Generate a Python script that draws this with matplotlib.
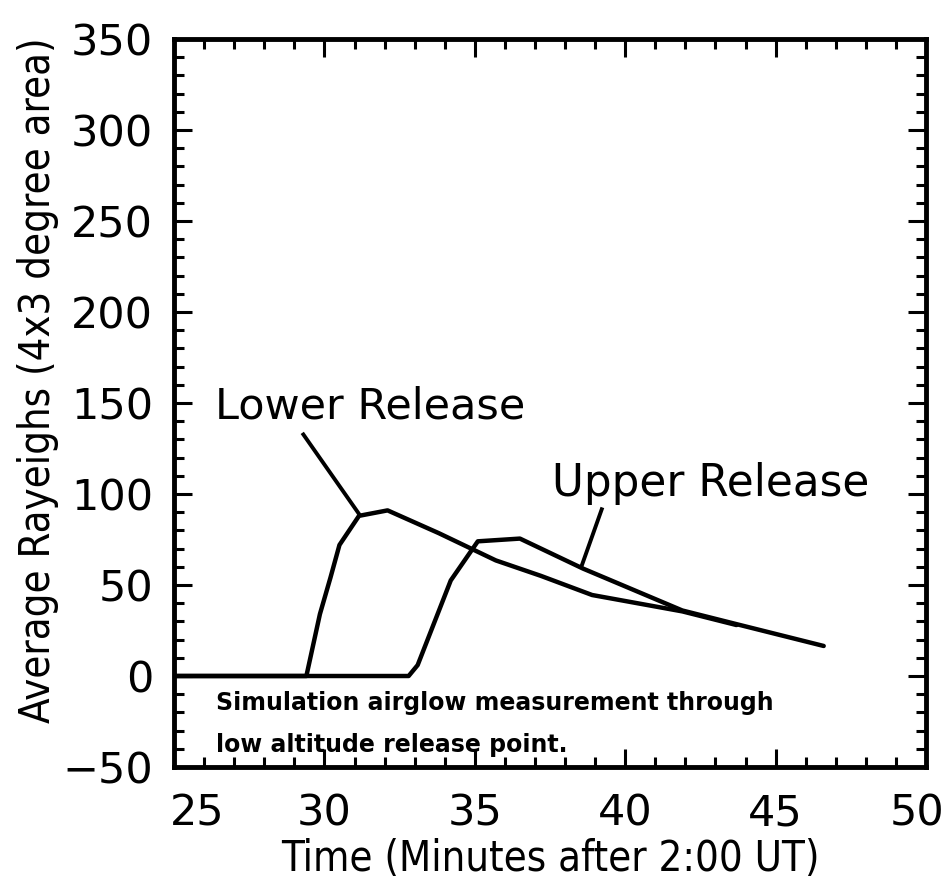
import matplotlib
matplotlib.use("Agg")
import matplotlib.pyplot as plt
import matplotlib.transforms as mtransforms
from matplotlib.ticker import MultipleLocator

# Simulated airglow brightness versus time for the two releases
lower_t = [25.0, 29.4, 29.85, 30.2, 30.5, 31.15, 32.1, 33.8, 35.7, 37.2, 38.9, 41.9, 43.7]
lower_v = [0.0, 0.0, 34.0, 54.0, 72.0, 88.0, 91.0, 78.5, 63.5, 55.0, 44.5, 35.5, 28.0]

upper_t = [25.0, 32.8, 33.1, 34.2, 35.1, 36.5, 38.6, 41.9, 43.7, 46.6]
upper_v = [0.0, 0.0, 6.0, 52.5, 74.0, 75.5, 59.0, 36.0, 28.5, 16.5]

x_ticks = [25, 30, 35, 40, 45, 50]
y_ticks = [-50, 0, 50, 100, 150, 200, 250, 300, 350]

plt.rcParams['font.family'] = ['DejaVu Sans']

fig = plt.figure(figsize=(9.5, 8.8), dpi=100)
ax = fig.add_axes([0.1832, 0.1284, 0.9747 - 0.1832, 0.9557 - 0.1284])

lw = 3.2
ax.plot(lower_t, lower_v, color='black', lw=lw, solid_joinstyle='round', solid_capstyle='round')
ax.plot(upper_t, upper_v, color='black', lw=lw, solid_joinstyle='round', solid_capstyle='round')

# Leader lines from the labels to their curves
ax.plot([29.3, 31.13], [132.7, 89.5], color='black', lw=2.8)
ax.plot([39.22, 38.55], [91.6, 60.4], color='black', lw=2.8)

ax.text(26.35, 148, 'Lower Release', fontsize=31, ha='left', va='center')
ax.text(37.55, 106, 'Upper Release', fontsize=31.5, ha='left', va='center')

ax.text(26.4, -15, 'Simulation airglow measurement through', fontsize=17,
        fontweight='bold', ha='left', va='center')
ax.text(26.4, -38, 'low altitude release point.', fontsize=17,
        fontweight='bold', ha='left', va='center')

ax.set_xlim(25, 50)
ax.set_ylim(-50, 350)
ax.set_xticks(x_ticks)
ax.set_yticks(y_ticks)
ax.set_xticklabels([str(v) for v in x_ticks])
ax.set_yticklabels([str(v).replace('-', '\u2212') for v in y_ticks])
ax.xaxis.set_minor_locator(MultipleLocator(1))
ax.yaxis.set_minor_locator(MultipleLocator(10))

for s in ax.spines.values():
    s.set_linewidth(3.5)

ax.tick_params(which='both', direction='in', top=True, right=True, width=2.2)
ax.tick_params(which='major', length=13, labelsize=31, pad=15)
ax.tick_params(which='minor', length=7)
ax.tick_params(axis='x', which='major', pad=18)

# keep the end x labels clear of the corners
xlabels = ax.get_xticklabels()
xlabels[0].set_transform(xlabels[0].get_transform() +
                         mtransforms.ScaledTranslation(0.23, 0, fig.dpi_scale_trans))
xlabels[-1].set_transform(xlabels[-1].get_transform() +
                          mtransforms.ScaledTranslation(-0.09, 0, fig.dpi_scale_trans))

ax.set_xlabel('Time (Minutes after 2:00 UT)', fontsize=30, fontstretch='condensed')
ax.xaxis.set_label_coords(0.5, -0.097)
ax.set_ylabel('Average Rayeighs (4x3 degree area)', fontsize=30, fontstretch='condensed')
ax.yaxis.set_label_coords(-0.153, 0.532)

fig.savefig('out.png', dpi=100)
